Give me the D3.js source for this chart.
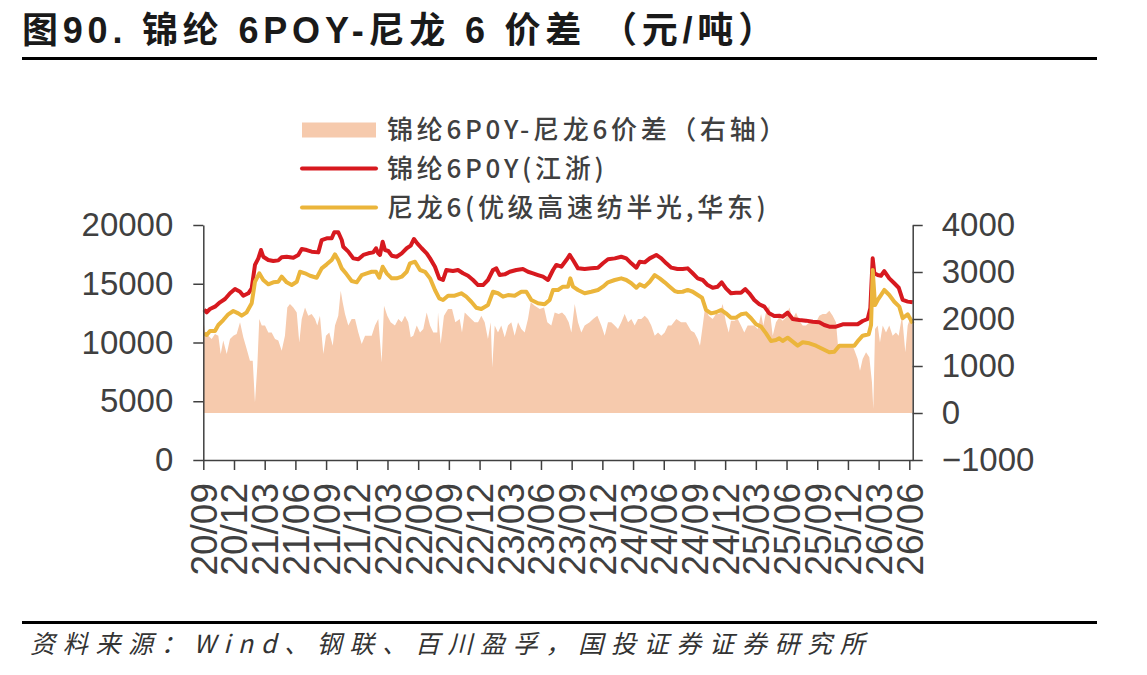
<!DOCTYPE html>
<html>
<head>
<meta charset="utf-8">
<script src="https://cdn.jsdelivr.net/npm/d3@7"></script>
<style>
  body { margin: 0; background: #fff; }
  svg { display: block; }
</style>
</head>
<body>
<svg width="1147" height="675"></svg>
<script>
// x positions are month offsets from 2020-09
const xLabels = ["20/09","20/12","21/03","21/06","21/09","21/12","22/03","22/06",
  "22/09","22/12","23/03","23/06","23/09","23/12","24/03","24/06",
  "24/09","24/12","25/03","25/06","25/09","25/12","26/03","26/06"];
const xTickMonths = d3.range(0, 70, 3);
const leftTicks = [0, 5000, 10000, 15000, 20000];
const rightTicks = [-1000, 0, 1000, 2000, 3000, 4000];

// 锦纶6POY(江浙)
const poy = [
  [0.07,12800],[0.33,12570],[0.65,12850],[1.14,13050],[1.63,13420],[2.12,13700],[2.61,14190],
  [3.10,14550],[3.59,14320],[3.91,13980],[4.40,14190],[4.73,14610],[5.05,16600],[5.38,17160],
  [5.64,17870],[5.86,17300],[6.35,17020],[6.84,16930],[7.33,16990],[7.66,17250],[8.15,17300],
  [8.80,17220],[9.28,17450],[9.62,17960],[10.11,17870],[10.59,17730],[11.24,17670],[11.57,18720],
  [12.06,18870],[12.55,18870],[12.80,19380],[13.19,19380],[13.53,18720],[13.68,18150],[14.17,17730],
  [14.66,17160],[15.15,17080],[15.64,17450],[16.13,17590],[16.61,17670],[16.88,18020],[17.10,17590],
  [17.27,17450],[17.53,18580],[17.76,17870],[18.08,17790],[18.41,17390],[18.90,17300],[19.39,17590],
  [19.88,18020],[20.27,18240],[20.59,18810],[20.91,18440],[21.34,18020],[21.83,17590],[22.16,17160],
  [22.64,16450],[23.06,15460],[23.43,15320],[23.75,16170],[24.40,16080],[24.89,16170],[25.38,15890],
  [25.87,15680],[26.36,15320],[26.85,14890],[27.34,14890],[27.82,15320],[28.31,16170],[28.64,16310],
  [28.97,15740],[29.46,15800],[29.95,16020],[30.59,16170],[31.24,16250],[31.73,16020],[32.22,15890],
  [32.71,15740],[33.20,15600],[33.69,15320],[34.18,16170],[34.50,16600],[34.99,16450],[35.48,17020],
  [35.81,17450],[36.13,17020],[36.62,16310],[37.27,16250],[37.92,16310],[38.57,16370],[39.06,16740],
  [39.55,17080],[40.21,17160],[40.85,17300],[41.34,17160],[41.83,16740],[42.32,16370],[42.65,16880],
  [43.14,16820],[43.63,17160],[44.27,17450],[44.76,17160],[45.25,16740],[45.74,16370],[46.34,16250],
  [46.85,16250],[47.34,16310],[47.83,15890],[48.32,15460],[48.81,15320],[49.29,14890],[49.78,14660],
  [50.27,14750],[50.66,15120],[51.08,14610],[51.57,14190],[52.06,14240],[52.55,14240],[52.97,14550],
  [53.36,14190],[53.85,13620],[54.34,13250],[54.83,13050],[55.31,12480],[55.80,12250],[56.29,12280],
  [56.62,12200],[57.11,12540],[57.60,12000],[58.25,11910],[58.90,11860],[59.56,11770],[60.20,11720],
  [60.69,11490],[61.18,11350],[61.83,11350],[62.49,11550],[63.13,11550],[63.95,11550],[64.44,11830],
  [64.93,12000],[65.19,12910],[65.42,17160],[65.58,15890],[65.91,15740],[66.23,15680],[66.55,16080],
  [67.04,15460],[67.53,15040],[67.96,14660],[68.35,13620],[68.84,13480],[69.33,13420]
];

// 尼龙6(优级高速纺半光,华东)
const pa6 = [
  [0.07,10780],[0.33,10640],[0.65,10980],[1.14,10980],[1.47,11490],[1.95,11910],[2.44,12400],
  [2.93,12680],[3.42,12480],[3.75,12280],[4.24,12570],[4.73,13340],[5.05,15170],[5.47,15890],
  [5.86,15320],[6.35,14950],[6.84,15120],[7.33,15170],[7.66,15600],[8.15,15120],[8.64,14890],
  [9.13,15170],[9.45,16020],[9.94,15890],[10.43,15680],[11.08,15510],[11.57,16310],[12.06,16650],
  [12.55,17020],[12.87,17500],[13.19,17020],[13.53,16310],[14.01,15800],[14.50,15230],[14.99,15120],
  [15.48,15740],[15.97,15890],[16.46,16020],[16.88,16020],[17.20,15510],[17.53,16450],[17.92,15890],
  [18.41,15460],[18.90,15460],[19.39,15600],[19.88,16020],[20.20,16740],[20.69,16880],[21.18,16170],
  [21.67,16020],[22.16,15460],[22.64,14470],[23.06,13760],[23.43,13620],[23.92,13980],[24.57,13980],
  [25.21,14190],[25.70,13900],[26.19,13470],[26.68,12960],[27.17,12850],[27.82,13190],[28.31,14320],
  [28.80,14190],[29.29,13900],[29.78,14040],[30.43,13980],[31.08,14320],[31.57,14320],[32.06,13620],
  [32.71,13340],[33.36,13250],[33.85,13620],[34.18,14470],[34.67,14470],[35.15,14750],[35.64,14750],
  [35.87,15460],[36.13,14750],[36.62,14470],[37.27,14190],[37.92,14320],[38.57,14470],[39.06,14750],
  [39.55,15120],[40.21,15320],[40.85,15460],[41.34,15320],[41.83,15040],[42.32,14660],[42.65,14950],
  [43.14,14750],[43.63,15170],[44.12,15740],[44.60,15460],[45.09,15120],[45.58,14750],[46.07,14380],
  [46.34,14300],[46.85,14320],[47.34,14470],[47.83,14320],[48.32,14040],[48.74,13810],[49.13,12770],
  [49.62,12480],[50.11,12570],[50.60,12770],[51.08,12480],[51.57,12110],[52.06,12110],[52.55,12400],
  [53.04,12480],[53.53,12060],[54.02,11550],[54.51,11350],[55.00,10780],[55.48,10130],[55.97,10210],
  [56.29,10360],[56.62,10130],[57.11,10410],[57.60,10070],[58.09,9730],[58.58,10020],[59.23,9930],
  [59.88,9730],[60.53,9450],[61.18,9170],[61.67,9220],[62.16,9730],[62.81,9730],[63.62,9730],
  [64.05,10210],[64.44,10580],[65.03,10700],[65.26,11490],[65.42,16170],[65.65,13190],[65.91,13620],
  [66.23,14040],[66.55,14470],[67.04,14040],[67.53,13470],[68.02,13050],[68.35,12060],[68.84,12400],
  [69.33,11630]
];

// 锦纶6POY-尼龙6价差(右轴)
const spread = [
  [0.00,2000],[0.17,1715],[0.49,1645],[0.82,1575],[1.14,1680],[1.47,1645],[1.70,1255],[1.95,1540],
  [2.29,1255],[2.61,1575],[2.93,1645],[3.26,1680],[3.59,1930],[3.91,1610],[4.24,1360],[4.56,1110],
  [4.83,1110],[5.05,225],[5.28,1005],[5.47,2000],[5.71,1860],[6.03,1860],[6.35,1715],[6.68,1715],
  [7.01,1575],[7.33,1540],[7.66,1325],[7.98,1645],[8.21,2245],[8.47,2320],[8.80,2245],[9.13,2140],
  [9.38,1500],[9.62,2000],[9.94,2245],[10.26,2070],[10.59,2105],[10.92,2000],[11.14,1860],[11.40,2070],
  [11.73,1255],[11.99,1645],[12.31,1715],[12.65,1430],[12.87,1860],[13.19,2070],[13.43,2600],[13.62,2355],
  [13.85,2105],[14.17,1860],[14.50,2000],[14.83,2000],[15.15,1715],[15.48,1470],[15.81,1645],[16.13,1645],
  [16.46,1645],[16.78,1860],[17.10,2000],[17.43,1075],[17.66,2280],[17.98,2070],[18.31,1930],[18.73,1860],
  [19.06,2000],[19.39,1930],[19.71,2070],[20.03,1930],[20.27,1610],[20.52,1645],[20.86,1860],[21.18,1715],
  [21.50,1785],[21.83,2140],[22.16,1860],[22.48,1715],[22.87,1715],[22.94,2140],[23.20,1470],[23.52,2070],
  [23.92,2215],[24.31,2215],[24.63,1930],[25.06,2000],[25.28,1715],[25.55,2140],[25.87,2070],[26.19,2000],
  [26.52,1930],[26.85,1930],[27.17,2070],[27.50,1930],[27.82,1575],[28.09,1930],[28.24,970],[28.48,1860],
  [28.80,1715],[29.12,1860],[29.46,1610],[29.78,1860],[30.10,1930],[30.43,1645],[30.76,1930],[31.08,1785],
  [31.41,1715],[31.73,2000],[32.00,2355],[32.39,2280],[32.88,2215],[33.30,2245],[33.62,1930],[34.01,1860],
  [34.34,2140],[34.73,2105],[35.06,2140],[35.38,2070],[35.71,1930],[35.97,1715],[36.30,2320],[36.62,1930],
  [36.94,1715],[37.27,1860],[37.76,1930],[38.09,2000],[38.51,2070],[38.90,1860],[39.23,1645],[39.55,1930],
  [39.87,1930],[40.21,1860],[40.53,1785],[40.85,1930],[41.18,2105],[41.51,1930],[41.83,2000],[42.16,1860],
  [42.48,2000],[42.81,2000],[43.14,2070],[43.46,2000],[43.78,1860],[44.12,1645],[44.44,1715],[44.76,1645],
  [45.09,1715],[45.41,1860],[45.74,1860],[46.23,2000],[46.69,1930],[47.18,1930],[47.67,1750],[47.99,1715],
  [48.32,1575],[48.54,1430],[48.81,1860],[49.06,2280],[49.39,2070],[49.78,2000],[50.11,2105],[50.43,2105],
  [50.76,2320],[51.08,1930],[51.35,1715],[51.57,1965],[51.90,1965],[52.23,2000],[52.55,1860],[52.87,1715],
  [53.20,1860],[53.53,1860],[53.85,1860],[54.18,1785],[54.51,2105],[54.73,1860],[54.99,2140],[55.31,2280],
  [55.65,1645],[55.97,1930],[56.29,2035],[56.62,1965],[56.95,2035],[57.27,2245],[57.60,2000],[57.93,2140],
  [58.25,1965],[58.58,1860],[58.90,1860],[59.23,1930],[59.56,1965],[59.88,1930],[60.20,2070],[60.53,2105],
  [60.86,2105],[61.18,2175],[61.51,2070],[61.83,1930],[62.06,1360],[62.32,1430],[62.65,1430],[62.98,1430],
  [63.47,1430],[63.95,1150],[64.18,900],[64.44,1150],[64.77,1290],[65.09,1185],[65.35,650],[65.48,85],
  [65.65,1785],[65.91,1860],[66.13,1500],[66.40,1860],[66.72,1715],[67.04,1860],[67.37,1645],[67.69,1715],
  [67.96,1645],[68.29,2070],[68.61,1290],[68.84,1860],[69.16,2070],[69.33,1860]
];

const svg = d3.select("svg");
const textColor = "#404040";
const cjk = "'Noto Sans CJK SC', 'Noto Sans', sans-serif";
const latin = "'Liberation Sans', Arial, sans-serif";

const x = d3.scaleLinear().domain([0, 69.33]).range([203.3, 912.7]);
const yLeft = d3.scaleLinear().domain([0, 20000]).range([460, 225]);
const yRight = d3.scaleLinear().domain([-1000, 4000]).range([460, 225]);

// title and rules
svg.append("text")
  .attr("x", 22).attr("y", 43)
  .attr("font-family", `${latin}, ${cjk}`)
  .attr("font-size", 36).attr("font-weight", "bold")
  .attr("letter-spacing", 4.8)
  .attr("fill", "#1a1a1a")
  .text("图90. 锦纶 6POY-尼龙 6 价差 （元/吨）");

svg.append("rect").attr("x", 22).attr("y", 57).attr("width", 1075).attr("height", 3).attr("fill", "#000");
svg.append("rect").attr("x", 22).attr("y", 621).attr("width", 1075).attr("height", 3).attr("fill", "#000");

svg.append("text")
  .attr("x", 30).attr("y", 653)
  .attr("font-family", cjk)
  .attr("font-size", 25).attr("font-style", "italic")
  .attr("letter-spacing", 7.7)
  .attr("fill", "#333")
  .text("资料来源：Wind、钢联、百川盈孚，国投证券证券研究所");

// spread area on right axis
const area = d3.area()
  .x(d => x(d[0]))
  .y0(yRight(0))
  .y1(d => yRight(d[1]));

svg.append("path")
  .datum(spread)
  .attr("d", area)
  .attr("fill", "#f6caad");

const lineLeft = d3.line()
  .x(d => x(d[0]))
  .y(d => yLeft(d[1]));

svg.append("path")
  .datum(poy)
  .attr("d", lineLeft)
  .attr("fill", "none")
  .attr("stroke", "#d7191f")
  .attr("stroke-width", 4)
  .attr("stroke-linejoin", "round");

svg.append("path")
  .datum(pa6)
  .attr("d", lineLeft)
  .attr("fill", "none")
  .attr("stroke", "#ebb53b")
  .attr("stroke-width", 4)
  .attr("stroke-linejoin", "round");

// axes
const leftAxis = svg.append("g")
  .attr("transform", "translate(203.3,0)")
  .call(d3.axisLeft(yLeft).tickValues(leftTicks).tickSize(10).tickSizeOuter(0).tickPadding(20)
    .tickFormat(d3.format("d")));

const rightAxis = svg.append("g")
  .attr("transform", "translate(912.7,0)")
  .call(d3.axisRight(yRight).tickValues(rightTicks).tickSize(10).tickSizeOuter(0).tickPadding(19)
    .tickFormat(d => d < 0 ? "\u2212" + Math.abs(d) : d));

const bottomAxis = svg.append("g")
  .attr("transform", "translate(0,460)")
  .call(d3.axisBottom(x).tickValues(xTickMonths).tickSize(10).tickSizeOuter(0)
    .tickFormat((d, i) => xLabels[i]));

[leftAxis, rightAxis].forEach(g => {
  g.selectAll("text")
    .attr("font-family", latin)
    .attr("font-size", 33)
    .attr("fill", textColor);
});

bottomAxis.selectAll("text")
  .attr("font-family", latin)
  .attr("font-size", 37)
  .attr("fill", textColor)
  .attr("transform", "rotate(-90)")
  .attr("x", -23)
  .attr("y", 0)
  .attr("dy", "0.35em")
  .attr("text-anchor", "end");

[leftAxis, rightAxis, bottomAxis].forEach(g => {
  g.select(".domain").attr("stroke", textColor).attr("stroke-width", 1.5);
  g.selectAll(".tick line").attr("stroke", textColor).attr("stroke-width", 1.5);
});

// legend
const legend = svg.append("g");
const legendItems = [
  { label: "锦纶6P0Y-尼龙6价差（右轴）", type: "area", color: "#f6caad" },
  { label: "锦纶6P0Y(江浙)", type: "line", color: "#d7191f" },
  { label: "尼龙6(优级高速纺半光,华东)", type: "line", color: "#ebb53b" }
];
const legendY = [130, 168.5, 207.5];

legendItems.forEach((item, i) => {
  const row = legend.append("g").attr("transform", `translate(0,${legendY[i]})`);
  if (item.type === "area") {
    row.append("rect").attr("x", 302).attr("y", -7.5).attr("width", 74).attr("height", 15).attr("fill", item.color);
  } else {
    row.append("line").attr("x1", 302).attr("x2", 376).attr("y1", 0).attr("y2", 0)
      .attr("stroke", item.color).attr("stroke-width", 4).attr("stroke-linecap", "round");
  }
  row.append("text")
    .attr("x", 387).attr("y", 0).attr("dy", "0.36em")
    .attr("font-family", cjk)
    .attr("font-size", 26)
    .attr("font-weight", 500)
    .attr("letter-spacing", 3.7)
    .attr("fill", textColor)
    .text(item.label);
});
</script>
</body>
</html>
